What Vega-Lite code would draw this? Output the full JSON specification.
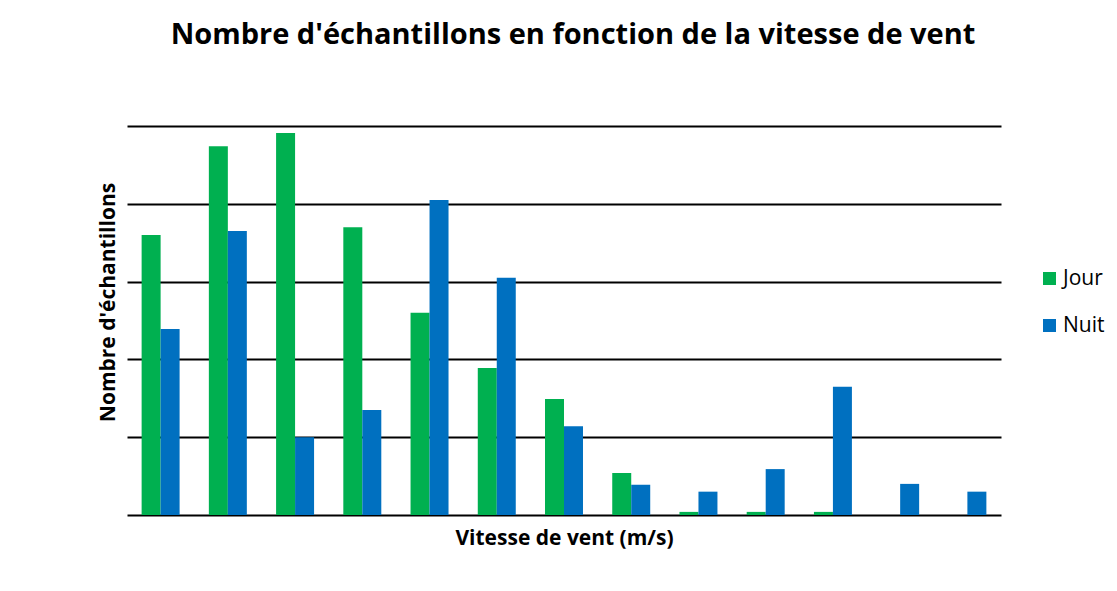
{
  "$schema": "https://vega.github.io/schema/vega-lite/v6.json",
  "autosize": {"type": "none"},
  "width": 874,
  "height": 389,
  "padding": {"left": 127, "top": 126, "right": 116, "bottom": 76},
  "background": "white",
  "title": {
    "text": "Nombre d'échantillons en fonction de la vitesse de vent",
    "font": "Open Sans",
    "fontSize": 29,
    "fontWeight": "bold",
    "color": "#000000",
    "anchor": "middle",
    "dx": 9,
    "offset": 76
  },
  "data": {
    "values": [
      {"classe": 1, "periode": "Jour", "n": 36.0},
      {"classe": 1, "periode": "Nuit", "n": 23.9},
      {"classe": 2, "periode": "Jour", "n": 47.4},
      {"classe": 2, "periode": "Nuit", "n": 36.5},
      {"classe": 3, "periode": "Jour", "n": 49.1},
      {"classe": 3, "periode": "Nuit", "n": 10.0},
      {"classe": 4, "periode": "Jour", "n": 37.0},
      {"classe": 4, "periode": "Nuit", "n": 13.5},
      {"classe": 5, "periode": "Jour", "n": 26.0},
      {"classe": 5, "periode": "Nuit", "n": 40.5},
      {"classe": 6, "periode": "Jour", "n": 18.9},
      {"classe": 6, "periode": "Nuit", "n": 30.5},
      {"classe": 7, "periode": "Jour", "n": 14.9},
      {"classe": 7, "periode": "Nuit", "n": 11.4},
      {"classe": 8, "periode": "Jour", "n": 5.4},
      {"classe": 8, "periode": "Nuit", "n": 3.9},
      {"classe": 9, "periode": "Jour", "n": 0.4},
      {"classe": 9, "periode": "Nuit", "n": 3.0},
      {"classe": 10, "periode": "Jour", "n": 0.4},
      {"classe": 10, "periode": "Nuit", "n": 5.9},
      {"classe": 11, "periode": "Jour", "n": 0.4},
      {"classe": 11, "periode": "Nuit", "n": 16.5},
      {"classe": 12, "periode": "Jour", "n": 0},
      {"classe": 12, "periode": "Nuit", "n": 4.0},
      {"classe": 13, "periode": "Jour", "n": 0},
      {"classe": 13, "periode": "Nuit", "n": 3.0}
    ]
  },
  "mark": {"type": "bar"},
  "encoding": {
    "x": {
      "field": "classe",
      "type": "ordinal",
      "scale": {"paddingInner": 0.435, "paddingOuter": 0.2175},
      "axis": {
        "title": "Vitesse de vent (m/s)",
        "labels": false,
        "ticks": false,
        "domain": false,
        "titleFont": "Open Sans",
        "titleFontSize": 21,
        "titleFontWeight": "bold",
        "titleColor": "#000000",
        "titlePadding": 12
      }
    },
    "xOffset": {"field": "periode", "type": "nominal", "scale": {"paddingInner": 0, "paddingOuter": 0}},
    "y": {
      "field": "n",
      "type": "quantitative",
      "scale": {"domain": [0, 50], "nice": false},
      "axis": {
        "title": "Nombre d'échantillons",
        "values": [0, 10, 20, 30, 40, 50],
        "labels": false,
        "ticks": false,
        "domain": false,
        "grid": true,
        "gridColor": "#000000",
        "gridWidth": 2,
        "gridOpacity": 1,
        "titleFont": "Open Sans",
        "titleFontSize": 21,
        "titleFontWeight": "bold",
        "titleColor": "#000000",
        "titleX": -19,
        "titleY": 176,
        "titleBaseline": "middle"
      }
    },
    "color": {
      "field": "periode",
      "type": "nominal",
      "scale": {"domain": ["Jour", "Nuit"], "range": ["#00B050", "#0070C0"]},
      "legend": {
        "title": null,
        "orient": "none",
        "legendX": 912,
        "legendY": 142,
        "symbolType": "square",
        "symbolSize": 169,
        "symbolStrokeWidth": 0,
        "labelFont": "Open Sans",
        "labelFontSize": 21,
        "labelColor": "#000000",
        "rowPadding": 25,
        "labelOffset": 3
      }
    }
  },
  "config": {"view": {"stroke": null}}
}
